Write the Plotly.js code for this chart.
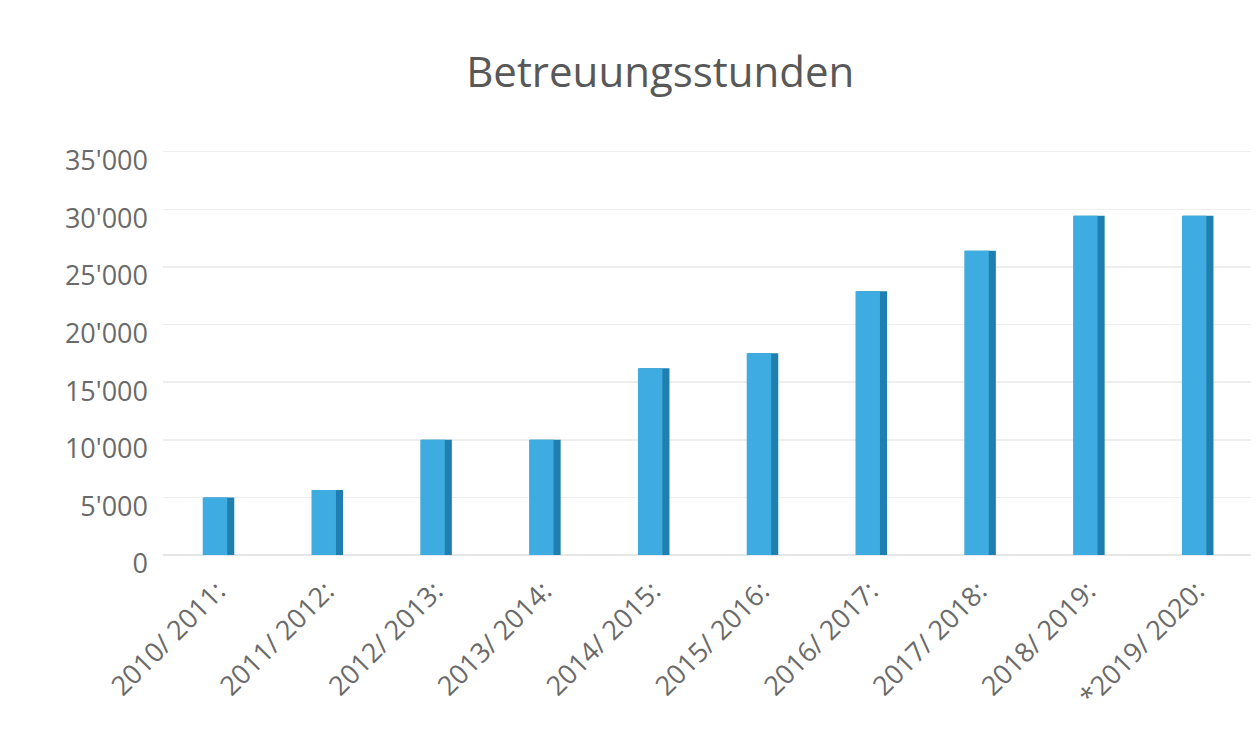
<!DOCTYPE html>
<html>
<head>
<meta charset="utf-8">
<script src="https://cdn.plot.ly/plotly-3.0.1.min.js"></script>
<style>
html,body{margin:0;padding:0;background:#fff;}
#chart{width:1260px;height:747px;}
</style>
</head>
<body>
<div id="chart"></div>
<script>
const categories = ["2010/ 2011:", "2011/ 2012:", "2012/ 2013:", "2013/ 2014:", "2014/ 2015:", "2015/ 2016:", "2016/ 2017:", "2017/ 2018:", "2018/ 2019:", "*2019/ 2020:"];
const hours = [5000, 5650, 10000, 10000, 16200, 17500, 22900, 26400, 29450, 29450];
const yTickVals = [0, 5000, 10000, 15000, 20000, 25000, 30000, 35000];
const yTickText = ["0", "5'000", "10'000", "15'000", "20'000", "25'000", "30'000", "35'000"];

const side = {
  type: 'bar', x: categories, y: hours,
  width: 0.28, offset: -0.125,
  marker: {color: '#1f7fb0', line: {width: 0}},
  hoverinfo: 'skip', showlegend: false
};
const front = {
  type: 'bar', x: categories, y: hours,
  width: 0.225, offset: -0.135,
  marker: {color: '#3eabe1', line: {width: 0}},
  name: 'Betreuungsstunden', showlegend: false
};

const layout = {
  width: 1260, height: 747,
  paper_bgcolor: '#ffffff', plot_bgcolor: '#ffffff',
  margin: {l: 163, r: 9, t: 150, b: 192},
  barmode: 'overlay',
  font: {family: '"Open Sans", "Noto Sans", sans-serif', color: '#6a6a6a'},
  title: {
    text: 'Betreuungsstunden',
    font: {size: 42, color: '#585858', family: '"Open Sans", sans-serif'},
    x: 0.524, xanchor: 'center', y: 0.903, yanchor: 'middle'
  },
  xaxis: {
    type: 'category',
    tickangle: -45,
    tickfont: {size: 27, color: '#6a6a6a'},
    showgrid: false, zeroline: false, showline: false,
    ticks: '', ticklabelstandoff: 14
  },
  yaxis: {
    range: [0, 35150],
    tickvals: yTickVals, ticktext: yTickText,
    tickfont: {size: 27, color: '#6a6a6a'},
    showgrid: true, gridcolor: '#eeeeee', gridwidth: 1.5,
    zeroline: true, zerolinecolor: '#e6e6e6', zerolinewidth: 1.5,
    showline: false, ticks: '', ticklabelstandoff: 14, ticklabelshift: 9
  }
};

Plotly.newPlot('chart', [side, front], layout, {displayModeBar: false, staticPlot: true});
</script>
</body>
</html>
